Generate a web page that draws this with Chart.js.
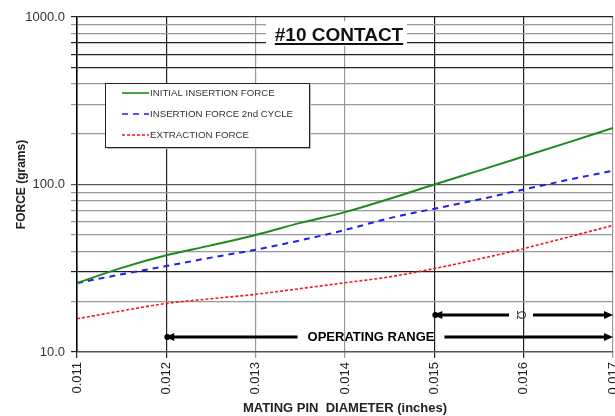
<!DOCTYPE html>
<html>
<head>
<meta charset="utf-8">
<script src="https://cdn.jsdelivr.net/npm/chart.js@4.4.1/dist/chart.umd.min.js"></script>
<style>
	html, body { margin: 0; padding: 0; background: #fff; overflow: hidden; }
	#wrap { position: relative; width: 615px; height: 416px; }
</style>
</head>
<body>
<div id="wrap"><canvas id="forceChart"></canvas></div>
<script>
const diameters = [0.011, 0.0115, 0.012, 0.0125, 0.013, 0.0135, 0.014, 0.0145, 0.015, 0.0155, 0.016, 0.0165, 0.017];
const initialInsertion = [25.8, 31.8, 37.8, 43.3, 50, 59, 68.4, 82.2, 100, 121, 146.8, 178.5, 217.5];
const secondInsertion = [25.8, 29.1, 32.6, 36.6, 40.8, 46.4, 53.5, 63, 71.7, 81.4, 93.4, 106.6, 121];
const extraction = [15.8, 17.6, 19.5, 20.8, 22.1, 23.9, 25.9, 28.1, 31.5, 35.9, 41.4, 48.6, 57];

const xTicks = [0.011, 0.012, 0.013, 0.014, 0.015, 0.016, 0.017];
const yTicks = [10, 20, 30, 40, 50, 60, 70, 80, 90, 100, 200, 300, 400, 500, 600, 700, 800, 900, 1000];
const yLabels = [10, 100, 1000];

const seriesNames = ["INITIAL INSERTION FORCE", "INSERTION FORCE 2nd CYCLE", "EXTRACTION FORCE"];
const operatingRange = [0.012, 0.017];
const upperRange = [0.015, 0.017];

const darkY = [10, 30, 500, 600, 700, 1000];
const darkX = [0.011, 0.012, 0.015, 0.016];

function toPoints(values) {
	return diameters.map((d, i) => ({ x: d, y: values[i] }));
}

const whiteBg = {
	id: "whiteBg",
	beforeDraw(chart) {
		const ctx = chart.ctx;
		ctx.save();
		ctx.fillStyle = "#fff";
		ctx.fillRect(0, 0, chart.width, chart.height);
		ctx.restore();
	},
};

function arrowHead(ctx, x, y, dir) {
	ctx.beginPath();
	ctx.moveTo(x, y);
	ctx.lineTo(x - dir * 9, y - 4);
	ctx.lineTo(x - dir * 9, y + 4);
	ctx.closePath();
	ctx.fill();
}

function rangeArrow(ctx, x1, x2, y, gap) {
	ctx.lineWidth = 3;
	ctx.beginPath();
	if (gap) {
		ctx.moveTo(x1, y);
		ctx.lineTo(gap[0], y);
		ctx.moveTo(gap[1], y);
		ctx.lineTo(x2 - 4, y);
	} else {
		ctx.moveTo(x1, y);
		ctx.lineTo(x2 - 4, y);
	}
	ctx.stroke();
	ctx.beginPath();
	ctx.arc(x1 + 1, y, 3, 0, Math.PI * 2);
	ctx.fill();
	arrowHead(ctx, x1 - 1, y, -1);
	arrowHead(ctx, x2, y, 1);
}

const annotations = {
	id: "annotations",
	afterDatasetsDraw(chart) {
		const ctx = chart.ctx;
		const xs = chart.scales.x;
		ctx.save();

		// title box
		const tx = 339, ty = 41;
		ctx.fillStyle = "#fff";
		ctx.fillRect(266, 21, 141, 25);
		ctx.fillStyle = "#111";
		ctx.font = "bold 19px 'Liberation Sans', Arial, sans-serif";
		ctx.textAlign = "center";
		ctx.textBaseline = "alphabetic";
		ctx.fillText("#10 CONTACT", tx, ty);
		const tw = ctx.measureText("#10 CONTACT").width;
		ctx.fillRect(tx - tw / 2, ty + 2, tw, 2);

		// legend
		const lx = 105, ly = 83, lw = 204, lh = 64;
		ctx.fillStyle = "#bbb";
		ctx.fillRect(lx + 2, ly + 2, lw, lh);
		ctx.fillStyle = "#fff";
		ctx.fillRect(lx, ly, lw, lh);
		ctx.strokeStyle = "#222";
		ctx.lineWidth = 1;
		ctx.strokeRect(lx + 0.5, ly + 0.5, lw, lh);
		ctx.font = "9.7px 'Liberation Sans', Arial, sans-serif";
		ctx.textAlign = "left";
		ctx.textBaseline = "middle";
		chart.data.datasets.forEach((ds, i) => {
			const yy = ly + 10 + i * 21;
			ctx.strokeStyle = ds.borderColor;
			ctx.lineWidth = 1.6;
			ctx.setLineDash(ds.borderDash || []);
			ctx.beginPath();
			ctx.moveTo(lx + 17, yy);
			ctx.lineTo(lx + 44, yy);
			ctx.stroke();
			ctx.setLineDash([]);
			ctx.fillStyle = "#333";
			ctx.fillText(ds.label, lx + 45, yy + 0.5);
		});

		// operating range arrows
		ctx.fillStyle = "#000";
		ctx.strokeStyle = "#000";
		const yMain = 337;
		const yUpper = 315;
		ctx.font = "bold 13px 'Liberation Sans', Arial, sans-serif";
		ctx.textAlign = "center";
		ctx.textBaseline = "middle";
		const labelX = 371;
		const lwid = ctx.measureText("OPERATING RANGE").width;
		rangeArrow(ctx, xs.getPixelForValue(operatingRange[0]), xs.getPixelForValue(operatingRange[1]), yMain,
			[labelX - lwid / 2 - 10, labelX + lwid / 2 + 10]);
		ctx.fillText("OPERATING RANGE", labelX, yMain);

		const ux1 = xs.getPixelForValue(upperRange[0]);
		const ux2 = xs.getPixelForValue(upperRange[1]);
		rangeArrow(ctx, ux1, ux2, yUpper, [509, 533]);
		ctx.save();
		ctx.translate(520, yUpper);
		ctx.rotate(Math.PI / 2);
		ctx.font = "12px 'Liberation Sans', Arial, sans-serif";
		ctx.fillStyle = "#333";
		ctx.fillText("\u03A9", 0, 0);
		ctx.restore();

		ctx.restore();
	},
};

new Chart(document.getElementById("forceChart"), {
	type: "line",
	data: {
		datasets: [
			{
				label: seriesNames[0],
				data: toPoints(initialInsertion),
				borderColor: "#1e8a1e",
				borderWidth: 2,
				pointRadius: 0,
				cubicInterpolationMode: "monotone",
			},
			{
				label: seriesNames[1],
				data: toPoints(secondInsertion),
				borderColor: "#2020e8",
				borderWidth: 2,
				borderDash: [6, 5],
				pointRadius: 0,
				cubicInterpolationMode: "monotone",
			},
			{
				label: seriesNames[2],
				data: toPoints(extraction),
				borderColor: "#f01818",
				borderWidth: 1.6,
				borderDash: [3, 2],
				pointRadius: 0,
				cubicInterpolationMode: "monotone",
			},
		],
	},
	options: {
		responsive: true,
		maintainAspectRatio: false,
		animation: false,
		layout: { padding: { top: 17, left: 0, right: 2, bottom: 0 } },
		plugins: {
			legend: { display: false },
			tooltip: { enabled: false },
		},
		scales: {
			x: {
				type: "linear",
				min: 0.011,
				max: 0.017,
				afterBuildTicks: (scale) => {
					scale.ticks = xTicks.map((v) => ({ value: v }));
				},
				afterFit: (scale) => {
					scale.height = 64;
					scale.paddingLeft = 0;
					scale.paddingRight = 0;
				},
				ticks: {
					autoSkip: false,
					minRotation: 90,
					maxRotation: 90,
					padding: 4,
					color: "#222",
					font: { family: "'Liberation Sans', Arial", size: 13 },
					callback: (v) => v.toFixed(3),
				},
				grid: {
					color: (c) => (c.tick && darkX.includes(c.tick.value) ? "#222" : "#999"),
					lineWidth: 1.2,
					tickLength: 6,
				},
				border: { color: "#555", width: 1.2 },
				title: {
					display: true,
					text: "MATING PIN  DIAMETER (inches)",
					color: "#222",
					font: { family: "'Liberation Sans', Arial", size: 13, weight: "bold" },
					padding: { top: 2, bottom: 0 },
				},
			},
			y: {
				type: "logarithmic",
				min: 10,
				max: 1000,
				afterBuildTicks: (scale) => {
					scale.ticks = yTicks.map((v) => ({ value: v }));
				},
				afterFit: (scale) => {
					scale.width = 77;
					scale.paddingTop = 0;
					scale.paddingBottom = 0;
				},
				ticks: {
					autoSkip: false,
					padding: 6,
					color: "#333",
					font: { family: "'Liberation Sans', Arial", size: 13 },
					callback: (v) => (yLabels.includes(v) ? v.toFixed(1) : ""),
				},
				grid: {
					color: (c) => {
						if (!c.tick) return "#999";
						if (c.tick.value === 100) return "#555";
						return darkY.includes(c.tick.value) ? "#222" : "#999";
					},
					lineWidth: 1.2,
					tickLength: 6,
				},
				border: { color: "#000", width: 1.5 },
				title: {
					display: true,
					text: "FORCE (grams)",
					color: "#222",
					font: { family: "'Liberation Sans', Arial", size: 12, weight: "bold" },
					padding: { top: 14, bottom: 0 },
				},
			},
		},
	},
	plugins: [whiteBg, annotations],
});
</script>
</body>
</html>
